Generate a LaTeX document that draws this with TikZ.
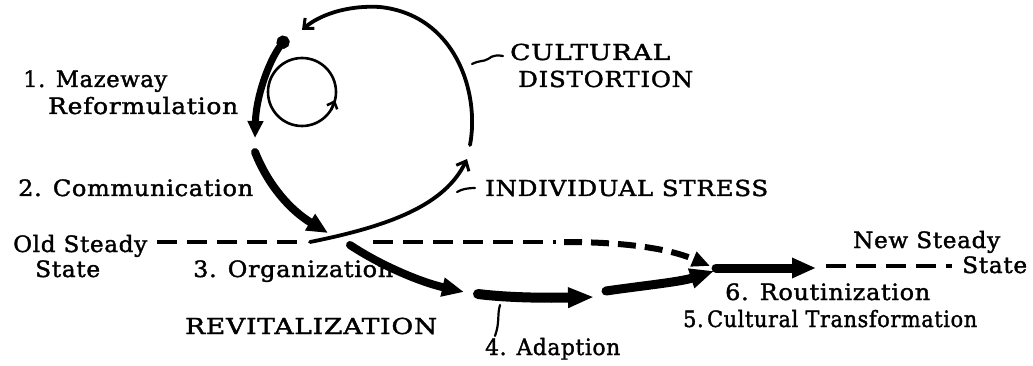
\documentclass[tikz,border=0pt]{standalone}
\usepackage{graphicx}
\usepackage{fontspec}
\setmainfont{DejaVu Serif}[LetterSpace=3, FakeBold=1.6]
\usetikzlibrary{arrows.meta}

% set a label at a given printed width, stretching it horizontally only
\newlength\fitnatural
\newcommand\fitlabel[2]{%
  \setbox0\hbox{#2}\fitnatural=\wd0
  \pgfmathsetmacro\fitratio{#1/\fitnatural}%
  \scalebox{\fitratio}[1]{\box0}}

\begin{document}
\begin{tikzpicture}[x=1pt,y=-1pt,
  lbl/.style={anchor=base west, inner sep=0pt, font=\fontsize{22.5}{26}\selectfont},
  caplbl/.style={lbl, font=\fontsize{22}{26}\selectfont},
  loopline/.style={line width=3.8pt, line cap=round},
  thinloop/.style={line width=2.6pt},
  barbtip/.style={-{Straight Barb[length=8pt,width=14pt,line width=3pt]}},
  stage/.style={line width=#1, line cap=round},
  dashline/.style={line width=3.8pt, dash pattern=on 20pt off 10pt},
  heavydash/.style={line width=6pt, dash pattern=on 18pt off 9pt},
  leader/.style={line width=2.2pt, line cap=round}]

\useasboundingbox (0,0) rectangle (1033,366);

% ---------- labels ----------
\node[lbl] (maz)   at (23,87)   {\fitlabel{144pt}{1. Mazeway}};
\node[lbl] (ref)   at (48,114)  {\fitlabel{190pt}{Reformulation}};
\node[lbl] (comm)  at (18,196)  {\fitlabel{235pt}{2. Communication}};
\node[lbl] (old)   at (13,252)  {\fitlabel{134pt}{Old Steady}};
\node[lbl] (oldst) at (35,277)  {\fitlabel{65pt}{State}};
\node[lbl] (org)   at (193,277) {\fitlabel{200pt}{3. Organization}};
\node[caplbl] (revit) at (185,334) {\fitlabel{252pt}{REVITALIZATION}};
\node[lbl] (adapt) at (485,355) {\fitlabel{135pt}{4. Adaption}};
\node[lbl] (trans) at (683,327) {\fitlabel{294pt}{5.\,Cultural Transformation}};
\node[lbl] (rout)  at (725,300) {\fitlabel{205pt}{6. Routinization}};
\node[lbl] (new)   at (853,248) {\fitlabel{147pt}{New Steady}};
\node[lbl] (newst) at (962,273) {\fitlabel{65pt}{State}};
\node[caplbl] (cult)  at (510,60)  {\fitlabel{160pt}{CULTURAL}};
\node[caplbl] (dist)  at (518,87)  {\fitlabel{175pt}{DISTORTION}};
\node[caplbl] (stress) at (485,196) {\fitlabel{283pt}{INDIVIDUAL STRESS}};

% ---------- anchor points of the connectors ----------
\coordinate (oldA)   at (157,242);
\coordinate (oldB)   at (305,242);
\coordinate (loopA)  at (310,242);
\coordinate (stressTip) at (467,159);
\coordinate (distA)  at (470,145);
\coordinate (distTop) at (380,7);
\coordinate (distTip) at (302,30);
\coordinate (small)  at (302,92);
\coordinate (smallA) at (331,110);
\coordinate (smallB) at (335,100);
\coordinate (mazA)   at (287,37);
\coordinate (mazB)   at (255,138);
\coordinate (commA)  at (255,152);
\coordinate (commB)  at (328,233);
\coordinate (orgA)   at (350,245);
\coordinate (orgB)   at (464,292);
\coordinate (adA)    at (478,294);
\coordinate (adB)    at (594,297);
\coordinate (ctA)    at (606,291);
\coordinate (ctB)    at (714,271);
\coordinate (rtA)    at (716,268);
\coordinate (rtB)    at (816,268);
\coordinate (upA)    at (373,242);
\coordinate (upB)    at (556,242);
\coordinate (upC)    at (564,242);
\coordinate (upTip)  at (710,266);
\coordinate (newA)   at (826,266);
\coordinate (newB)   at (952,266);

% ---------- steady-state lines ----------
\draw[dashline] (oldA) -- (oldB);
\draw[dashline] (newA) -- (newB);
\draw[dashline] (upA) -- (upB);
\draw[heavydash, -{Triangle[length=18pt,width=15pt]}]
  (upC) .. controls (632,242) and (672,250) .. (upTip);

% ---------- the stress / distortion loop ----------
\draw[loopline, barbtip] (loopA) .. controls (390,226) and (445,205) .. (stressTip);
\draw[loopline, barbtip] (distA) .. controls (480,92) and (455,15) .. (distTop)
  .. controls (345,5) and (318,16) .. (distTip);

% inner loop
\draw[thinloop] (small) circle[radius=34];
\draw[thinloop, -{Straight Barb[length=6pt,width=11pt,line width=2.5pt]}] (smallA) -- (smallB);

% ---------- the six stages ----------
\draw[stage=7pt, {Circle[length=13pt]}-{Triangle[length=17pt,width=15pt]}]
  (mazA) .. controls (268,62) and (256,98) .. (mazB);
\draw[stage=8pt, -{Triangle[length=21pt,width=18pt]}]
  (commA) .. controls (268,185) and (290,210) .. (commB);
\draw[stage=8pt, -{Triangle[length=22pt,width=18pt]}]
  (orgA) .. controls (380,265) and (420,282) .. (orgB);
\draw[stage=10pt, -{Triangle[length=26pt,width=19pt]}]
  (adA) .. controls (510,298) and (550,298) .. (adB);
\draw[stage=9pt, -{Triangle[length=24pt,width=19pt]}]
  (ctA) .. controls (640,286) and (680,282) .. (ctB);
\draw[stage=9pt, -{Triangle[length=24pt,width=19pt]}]
  (rtA) -- (rtB);

% ---------- label leaders ----------
\draw[leader] (472,64) .. controls (480,60) and (483,62) .. (488,59)
  .. controls (493,55) and (498,55) .. (503,56);
\draw[leader] (457,192) .. controls (462,189) and (468,188) .. (475,188);
\draw[leader] (500,305) .. controls (497,315) and (500,322) .. (495,336);

\end{tikzpicture}
\end{document}
